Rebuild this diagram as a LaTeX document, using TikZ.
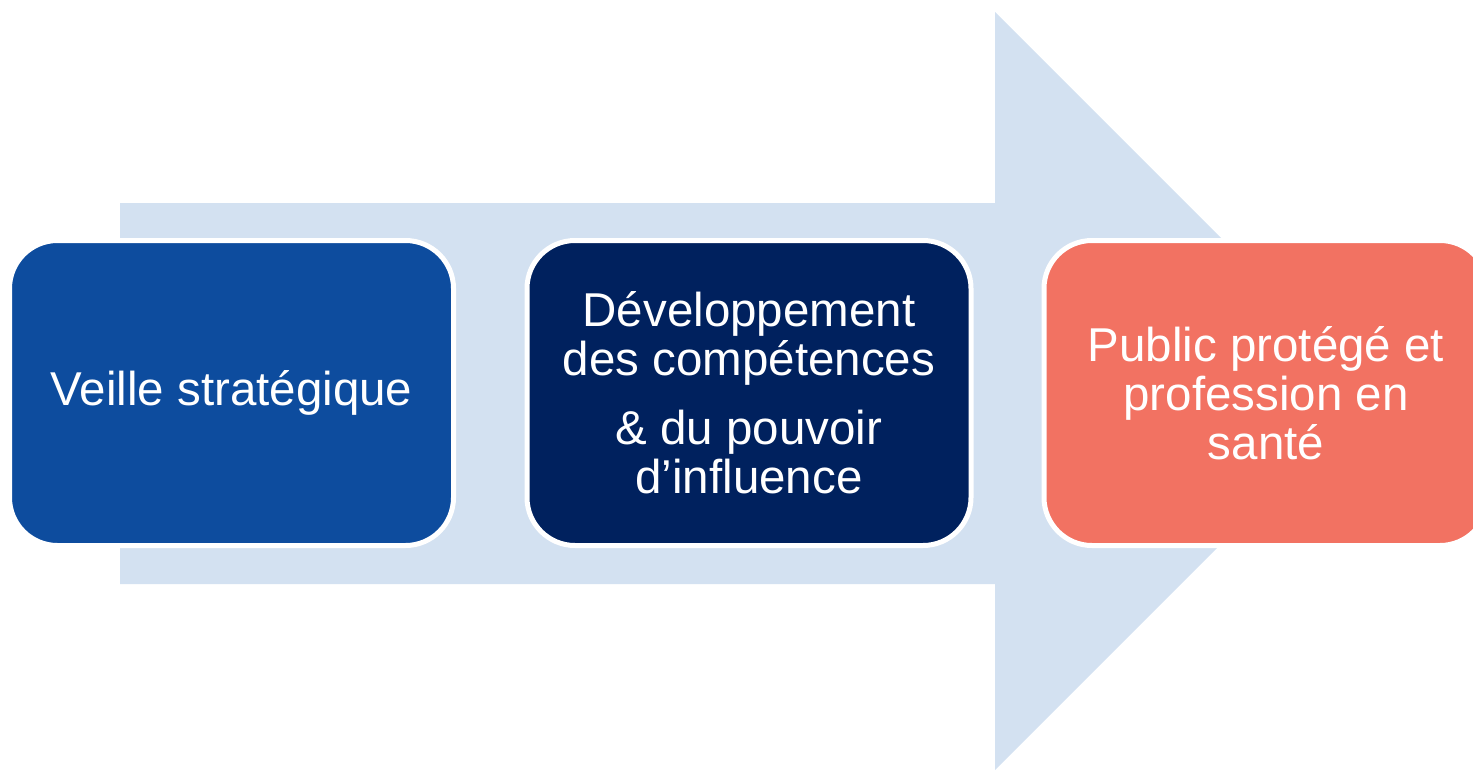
\documentclass[tikz,border=0pt]{standalone}
\usepackage{fontspec}
\setmainfont{Liberation Sans}
\definecolor{arrowblue}{HTML}{D3E1F1}
\definecolor{boxblue}{HTML}{0D4C9E}
\definecolor{boxnavy}{HTML}{00215E}
\definecolor{boxsalmon}{HTML}{F27262}
\tikzset{
  stagebox/.style={rectangle, rounded corners=24pt, draw=white, line width=2.5pt,
    minimum width=222pt, minimum height=152.5pt, inner sep=0pt, align=center,
    text=white, font=\fontsize{23.75}{24.5}\selectfont}
}
\begin{document}
\begin{tikzpicture}[x=0.5pt,y=-0.5pt]
\useasboundingbox (0,0) rectangle (1473,771);
\clip (0,0) rectangle (1473,771);
\fill[arrowblue] (120,203) -- (995,203) -- (995,12) -- (1374,391) -- (995,770) -- (995,584) -- (120,584) -- cycle;
\node[stagebox, fill=boxblue] (veille) at (231.5,393) {Veille stratégique};
\node[stagebox, fill=boxnavy] (dev) at (749,393) {Développement\\des compétences\\[10pt]\& du pouvoir\\d’influence};
\node[stagebox, fill=boxsalmon] (public) at (1266,393) {Public protégé et\\profession en\\santé};
\end{tikzpicture}
\end{document}
